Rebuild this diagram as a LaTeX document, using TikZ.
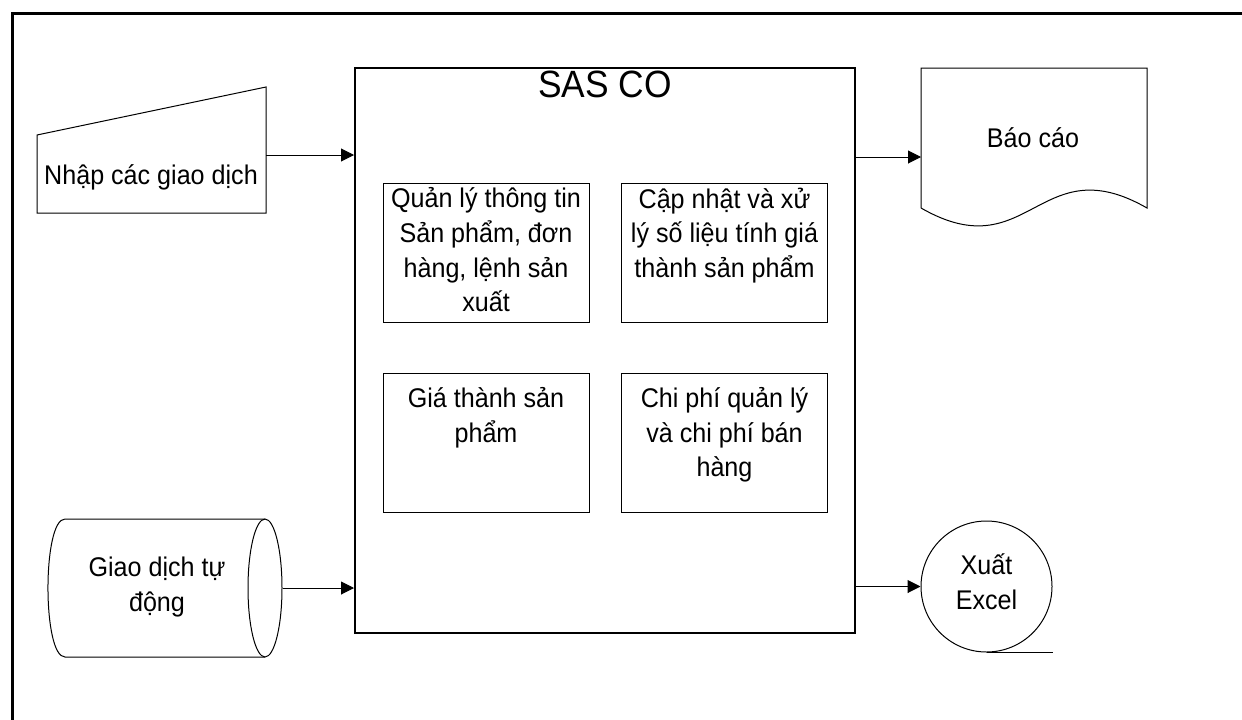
\documentclass[tikz,border=0pt]{standalone}
\usepackage{fontspec}
\setmainfont{Liberation Sans}[FakeStretch=0.93]
\usetikzlibrary{arrows.meta,shapes.geometric}

\begin{document}
\begin{tikzpicture}[
  x=1pt, y=-1pt,
  >={Triangle[length=13pt,width=13pt]},
  symb/.style={draw,line width=1pt},
  flow/.style={->,line width=1pt},
  inbox/.style={draw,line width=1pt,minimum width=206pt,minimum height=139pt,inner sep=0},
  lbl/.style={align=center,inner sep=0,font=\fontsize{27}{34.7}\selectfont},
  intext/.style={lbl,anchor=north}
  ]

  \useasboundingbox (0,0) rectangle (1242,720);
  \draw[line width=3pt] (12,720) -- (12,13) -- (1242,13);


  \node [draw,line width=2pt,minimum width=500pt,minimum height=565pt,inner sep=0] (sas) at (605,350.5) {};
  \node [lbl,font=\fontsize{38}{44}\selectfont] (title) at (605,84) {SAS CO};

  \node [inbox] (ql) at (486,252.5) {};
  \node [inbox] (cn) at (724.5,252.5) {};
  \node [inbox] (gt) at (486,443) {};
  \node [inbox] (cp) at (724.5,443) {};
  \node [intext,yshift=-5pt] (qlt) at (ql.north) {Quản lý thông tin\\Sản phẩm, đơn\\hàng, lệnh sản\\xuất};
  \node [intext,yshift=-5pt] (cnt) at (cn.north) {Cập nhật và xử\\lý số liệu tính giá\\thành sản phẩm};
  \node [intext,yshift=-14pt] (gtt) at (gt.north) {Giá thành sản\\phẩm};
  \node [intext,yshift=-14pt] (cpt) at (cp.north) {Chi phí quản lý\\và chi phí bán\\hàng};


  % manual input
  \draw[symb] (37,135) -- (266,87) -- (266,213) -- (37,213) -- cycle;
  \node [lbl] (nhap) at (151,177) {Nhập các giao dịch};
  \coordinate (nhapout) at (266,155);
  \draw[flow] (nhapout) -- (nhapout -| sas.west);

  % direct data
  \draw[symb] (265,519) -- (65,519) .. controls (42.3,519) and (42.3,657) .. (65,657) -- (265,657);
  \node [symb,ellipse,minimum width=34pt,minimum height=138pt,inner sep=0] (lens) at (265,588) {};
  \node [lbl] (gd) at (157,587) {Giao dịch tự\\động};
  \draw[flow] (lens.east) -- (lens.east -| sas.west);

  % document
  \draw[symb] (921,208) -- (921,68) -- (1147,68) -- (1147,208) .. controls (1039,146) and (1029,270) .. (921,208);
  \node [lbl] (bc) at (1033,138) {Báo cáo};
  \coordinate (bcin) at (921,157);
  \draw[flow] (bcin -| sas.east) -- (bcin);

  % tape
  \node [symb,circle,minimum size=131pt,inner sep=0] (xe) at (986.5,586.5) {};
  \node [lbl] (xet) at (986.5,582) {Xuất\\Excel};
  \draw[symb] (xe.south) -- ++(66,0);
  \draw[flow] (xe.west -| sas.east) -- (xe.west);


\end{tikzpicture}
\end{document}
